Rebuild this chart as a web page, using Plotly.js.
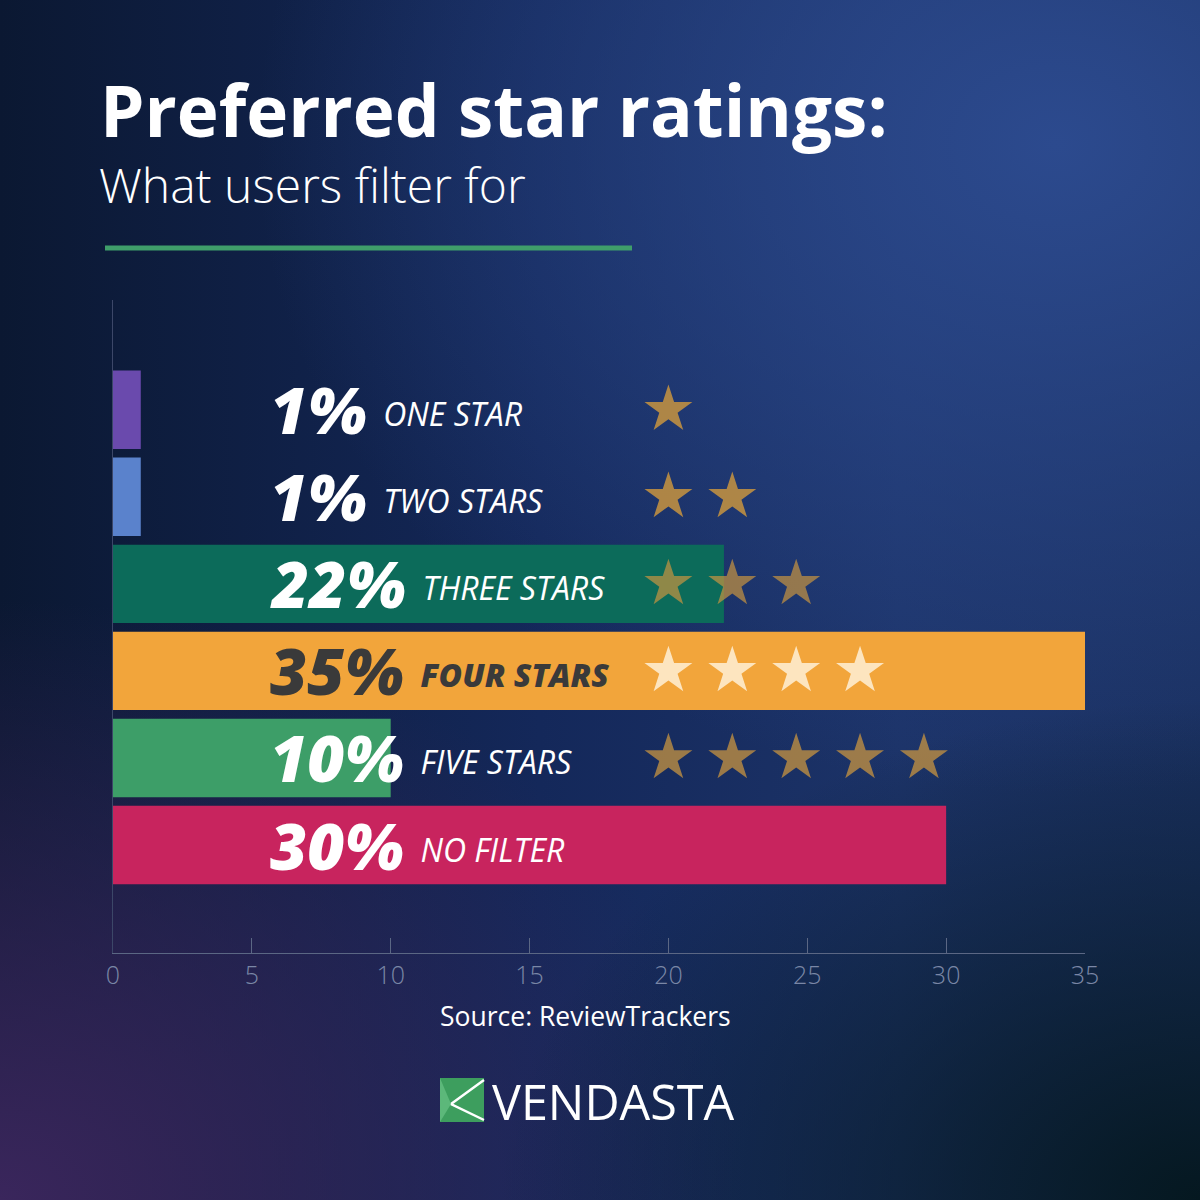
<!DOCTYPE html>
<html>
<head>
<meta charset="utf-8">
<script src="https://cdn.plot.ly/plotly-3.0.1.min.js"></script>
<style>
  html, body { margin: 0; padding: 0; width: 1200px; height: 1200px; overflow: hidden; }
  body {
    background:
      radial-gradient(ellipse 700px 500px at 100% 100%, rgba(5,24,32,1) 0%, rgba(5,24,32,0) 100%),
      radial-gradient(ellipse 750px 600px at 0% 100%, rgba(58,38,92,1) 0%, rgba(58,38,92,0) 100%),
      radial-gradient(ellipse 800px 650px at 88% 12%, rgba(44,74,142,1) 0%, rgba(44,74,142,0) 100%),
      linear-gradient(90deg, #0b1832 0%, #14285a 45%, #1c3368 75%, #1a3060 100%);
  }
  #chart { width: 1200px; height: 1200px; }
</style>
</head>
<body>
<div id="chart"></div>
<script>
// ---- data ----
var categories = ["ONE STAR", "TWO STARS", "THREE STARS", "FOUR STARS", "FIVE STARS", "NO FILTER"];
var values = [1, 1, 22, 35, 10, 30];
var starCounts = [1, 2, 3, 4, 5, 0];
var xTickValues = [0, 5, 10, 15, 20, 25, 30, 35];

// ---- styles ----
var barColors = ["#6a4aad", "#5a82cc", "#0c6b5a", "#f2a53b", "#3d9e68", "#c8245e"];
var labelColors = ["#ffffff", "#ffffff", "#ffffff", "#3a3a3a", "#ffffff", "#ffffff"];
var starColors = ["rgba(200,148,64,0.85)", "rgba(200,148,64,0.85)", "rgba(200,148,64,0.7)",
                  "rgba(255,245,225,0.8)", "rgba(200,148,64,0.75)", "rgba(200,148,64,0.8)"];
var labelX = 5.58;
var starStart = 20, starStep = 2.3;

// plot area in pixels (for paper coordinate helper)
var L = 113, R = 1085, T = 300, B = 953;
function px(x) { return (x - L) / (R - L); }
function py(y) { return (B - y) / (B - T); }

var barTrace = {
  type: "bar",
  orientation: "h",
  y: categories,
  x: values,
  width: 0.9,
  marker: { color: barColors, line: { width: 0 } },
  hoverinfo: "skip",
  showlegend: false
};

var sx = [], sy = [], sc = [];
categories.forEach(function (c, i) {
  for (var j = 0; j < starCounts[i]; j++) {
    sx.push(starStart + j * starStep);
    sy.push(c);
    sc.push(starColors[i]);
  }
});
var starTrace = {
  type: "scatter",
  mode: "markers",
  x: sx, y: sy,
  marker: { symbol: "star", size: 36, color: sc, line: { width: 0 } },
  hoverinfo: "skip",
  showlegend: false
};

var annotations = categories.map(function (c, i) {
  return {
    x: labelX, y: c, xref: "x", yref: "y",
    xanchor: "left", yanchor: "middle",
    showarrow: false,
    text: '<span style="font-size:64px;font-weight:800;font-style:italic">' + values[i] + '%</span>' +
          '<span style="font-size:32px;font-style:italic;baseline-shift:8px;font-weight:' + (i === 3 ? 800 : 500) + '">  ' + c + '</span>',
    font: { family: "Open Sans", color: labelColors[i], size: 32 }
  };
});

annotations.push({
  xref: "paper", yref: "paper", x: px(98), y: py(109), xanchor: "left", yanchor: "middle",
  showarrow: false, text: "Preferred star ratings:",
  font: { family: "Open Sans", size: 71, color: "#ffffff", weight: 700 }
});
annotations.push({
  xref: "paper", yref: "paper", x: px(97), y: py(184), xanchor: "left", yanchor: "middle",
  showarrow: false, text: "What users filter for",
  font: { family: "Open Sans", size: 48, color: "#ffffff", weight: 300 }
});
annotations.push({
  xref: "paper", yref: "paper", x: px(585), y: py(1016), xanchor: "center", yanchor: "middle",
  showarrow: false, text: "Source: ReviewTrackers",
  font: { family: "Open Sans", size: 26.5, color: "#ffffff", weight: 400 }
});
annotations.push({
  xref: "paper", yref: "paper", x: px(490), y: py(1101), xanchor: "left", yanchor: "middle",
  showarrow: false, text: "VENDASTA",
  font: { family: "Open Sans", size: 48.5, color: "#ffffff", weight: 400 }
});

var shapes = [
  { type: "line", xref: "paper", yref: "paper", x0: px(105), x1: px(632), y0: py(248), y1: py(248),
    line: { color: "#3f9e6a", width: 5 } },
  // logo icon
  { type: "path", xref: "paper", yref: "paper",
    path: "M " + px(440) + "," + py(1078) + " L " + px(484) + "," + py(1078) + " L " + px(484) + "," + py(1122) +
          " L " + px(440) + "," + py(1122) + " Z",
    fillcolor: "#3d9e5e", line: { width: 0 } },
  { type: "path", xref: "paper", yref: "paper",
    path: "M " + px(484) + "," + py(1080) + " L " + px(451) + "," + py(1104) + " L " + px(484) + "," + py(1120),
    line: { color: "#ffffff", width: 2.5 } },
  { type: "path", xref: "paper", yref: "paper",
    path: "M " + px(440) + "," + py(1078) + " L " + px(451) + "," + py(1104) + " L " + px(440) + "," + py(1122) + " Z",
    fillcolor: "#5cb87a", line: { width: 0 } }
];

var layout = {
  width: 1200, height: 1200,
  margin: { l: L, r: 1200 - R, t: T, b: 1200 - B, pad: 0 },
  paper_bgcolor: "rgba(0,0,0,0)",
  plot_bgcolor: "rgba(0,0,0,0)",
  showlegend: false,
  bargap: 0.1,
  xaxis: {
    range: [0, 35], tickvals: xTickValues, ticktext: xTickValues.map(String),
    showgrid: false, zeroline: false,
    showline: true, linecolor: "#5b6784", linewidth: 1,
    ticks: "inside", ticklen: 15, tickwidth: 1, tickcolor: "#5b6784",
    tickfont: { family: "Open Sans", size: 25, color: "#7a87a6", weight: 300 },
    fixedrange: true
  },
  yaxis: {
    type: "category",
    categoryorder: "array", categoryarray: categories,
    range: [6.24, -1.26],
    showgrid: false, zeroline: false,
    showline: true, linecolor: "#3c4768", linewidth: 1,
    showticklabels: false, ticks: "",
    fixedrange: true
  },
  annotations: annotations,
  shapes: shapes
};

Plotly.newPlot("chart", [barTrace, starTrace], layout, { displayModeBar: false, staticPlot: true });
</script>
</body>
</html>
